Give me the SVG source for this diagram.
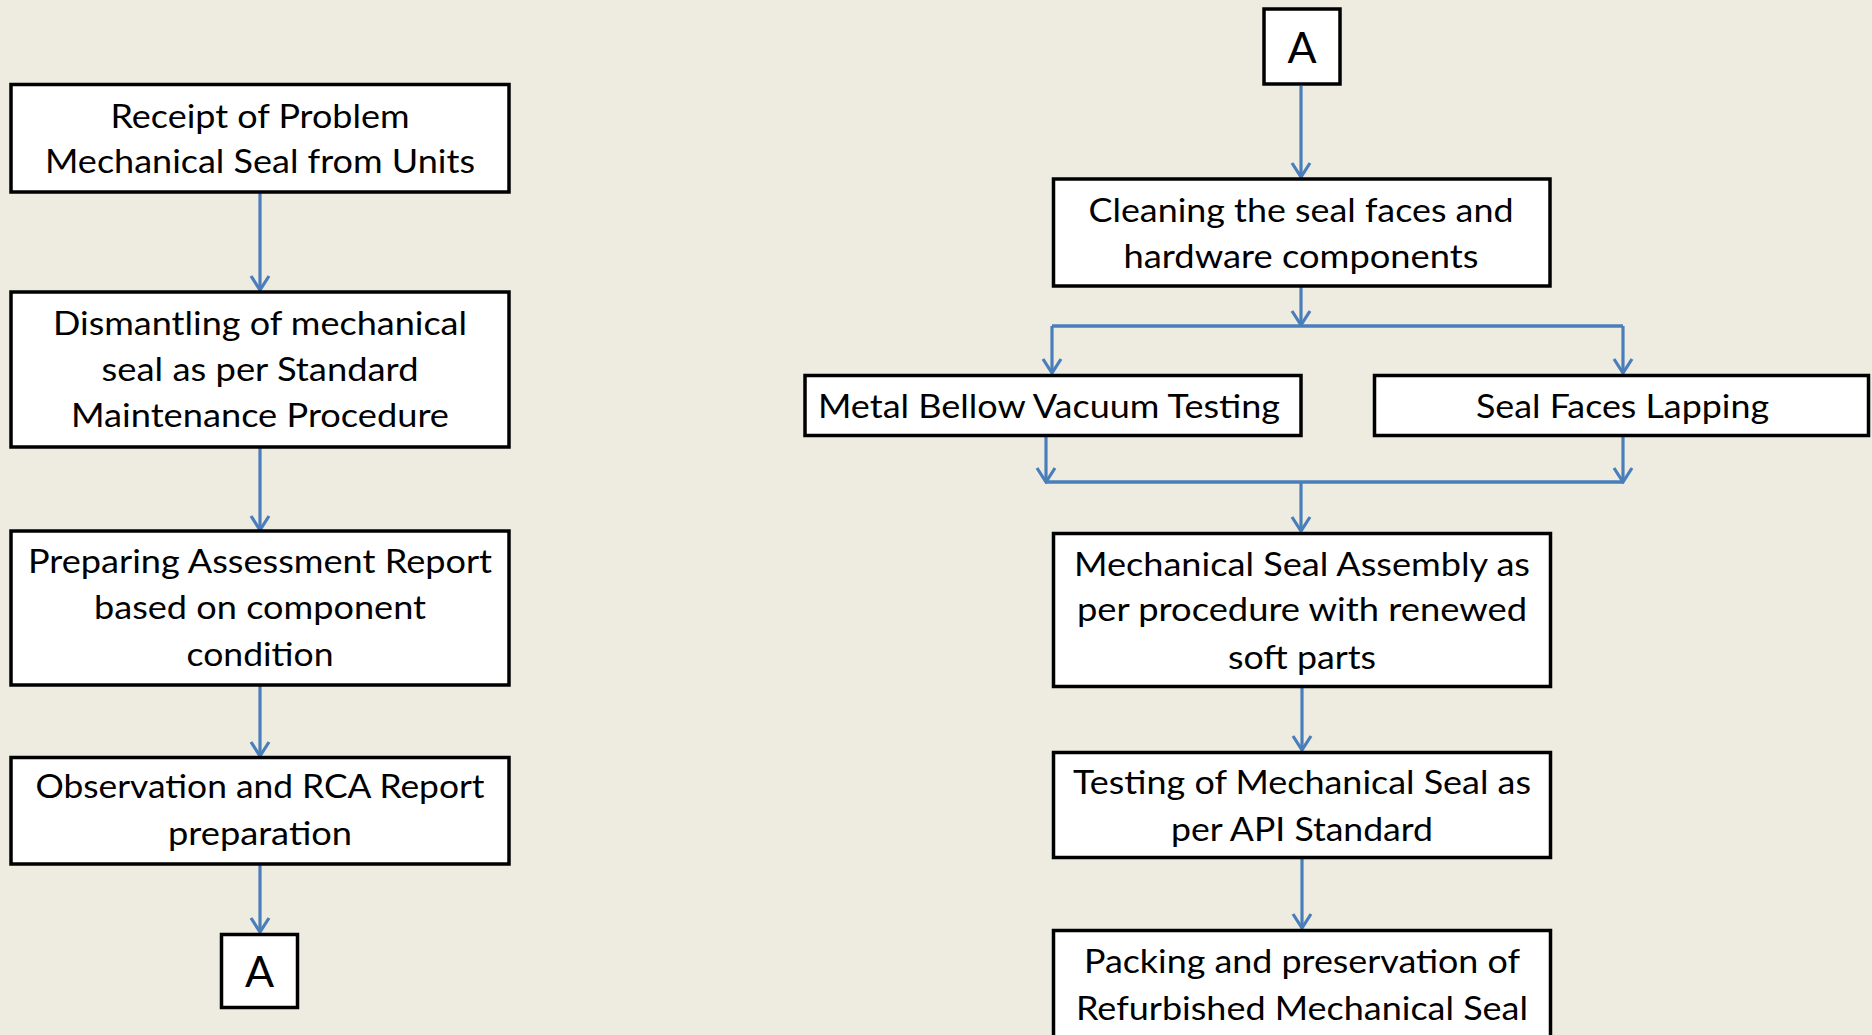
<svg xmlns="http://www.w3.org/2000/svg" width="1872" height="1035" viewBox="0 0 1872 1035">
<style>
.box{fill:#ffffff;stroke:#000000;stroke-width:3.5}
.t{font-family:Lato,"Open Sans",sans-serif;font-size:32px;fill:#000000;text-anchor:middle}
.ta{font-family:Lato,"Open Sans",sans-serif;font-size:43px;fill:#000000;text-anchor:middle}
.c{fill:none;stroke:#4a7ebb;stroke-width:3.5}
.ca{fill:none;stroke:#4a7ebb;stroke-width:3.2;marker-end:url(#arr)}
</style>
<defs>
<marker id="arr" markerUnits="userSpaceOnUse" viewBox="-17 -12 19 24" markerWidth="19" markerHeight="24" refX="0" refY="0" orient="auto">
<path d="M-14,-9 L0,0 L-14,9" fill="none" stroke="#4a7ebb" stroke-width="3.2"/>
</marker>
</defs>
<rect width="1872" height="1035" fill="#eeece1"/>
<g id="connectors">
<line class="ca" x1="260" y1="193" x2="260" y2="290"/>
<line class="ca" x1="260" y1="447" x2="260" y2="530"/>
<line class="ca" x1="260" y1="686" x2="260" y2="756"/>
<line class="ca" x1="260" y1="865" x2="260" y2="932"/>
<line class="ca" x1="1301" y1="86" x2="1301" y2="177"/>
<line class="ca" x1="1301" y1="287" x2="1301" y2="325"/>
<line class="c" x1="1052" y1="326" x2="1623" y2="326"/>
<line class="ca" x1="1052" y1="326" x2="1052" y2="373"/>
<line class="ca" x1="1623" y1="326" x2="1623" y2="373"/>
<line class="ca" x1="1046" y1="437" x2="1046" y2="482"/>
<line class="ca" x1="1623" y1="437" x2="1623" y2="482"/>
<line class="c" x1="1046" y1="482" x2="1623" y2="482"/>
<line class="ca" x1="1301" y1="482" x2="1301" y2="531"/>
<line class="ca" x1="1302" y1="688" x2="1302" y2="750"/>
<line class="ca" x1="1302" y1="859" x2="1302" y2="928"/>
</g>
<g id="n1">
<rect class="box" x="11" y="84.5" width="498" height="107.5"/>
<text class="t" x="260" y="128" textLength="299" lengthAdjust="spacingAndGlyphs">Receipt of Problem</text>
<text class="t" x="260" y="173" textLength="430" lengthAdjust="spacingAndGlyphs">Mechanical Seal from Units</text>
</g>
<g id="n2">
<rect class="box" x="11" y="292" width="498" height="155"/>
<text class="t" x="260" y="335" textLength="414" lengthAdjust="spacingAndGlyphs">Dismantling of mechanical</text>
<text class="t" x="260" y="381" textLength="317" lengthAdjust="spacingAndGlyphs">seal as per Standard</text>
<text class="t" x="260" y="427" textLength="378" lengthAdjust="spacingAndGlyphs">Maintenance Procedure</text>
</g>
<g id="n3">
<rect class="box" x="11" y="531" width="498" height="154"/>
<text class="t" x="260" y="573" textLength="464" lengthAdjust="spacingAndGlyphs">Preparing Assessment Report</text>
<text class="t" x="260" y="619" textLength="332" lengthAdjust="spacingAndGlyphs">based on component</text>
<text class="t" x="260" y="666" textLength="147" lengthAdjust="spacingAndGlyphs">condition</text>
</g>
<g id="n4">
<rect class="box" x="11" y="757.5" width="498" height="106.5"/>
<text class="t" x="260" y="798" textLength="449" lengthAdjust="spacingAndGlyphs">Observation and RCA Report</text>
<text class="t" x="260" y="845" textLength="184" lengthAdjust="spacingAndGlyphs">preparation</text>
</g>
<g id="a1">
<rect class="box" x="221.5" y="934.5" width="76" height="73"/>
<text class="ta" x="259.5" y="987">A</text>
</g>
<g id="a2">
<rect class="box" x="1264" y="9" width="76" height="75"/>
<text class="ta" x="1302" y="63">A</text>
</g>
<g id="n5">
<rect class="box" x="1053.5" y="179" width="496.5" height="107"/>
<text class="t" x="1301" y="222" textLength="425" lengthAdjust="spacingAndGlyphs">Cleaning the seal faces and</text>
<text class="t" x="1301" y="268" textLength="355" lengthAdjust="spacingAndGlyphs">hardware components</text>
</g>
<g id="n6">
<rect class="box" x="805" y="375.5" width="496" height="60"/>
<text class="t" x="1049" y="418" textLength="462" lengthAdjust="spacingAndGlyphs">Metal Bellow Vacuum Testing</text>
</g>
<g id="n7">
<rect class="box" x="1374.5" y="375.5" width="494" height="60"/>
<text class="t" x="1622.5" y="418" textLength="293" lengthAdjust="spacingAndGlyphs">Seal Faces Lapping</text>
</g>
<g id="n8">
<rect class="box" x="1053.5" y="533.5" width="497" height="153"/>
<text class="t" x="1302" y="576" textLength="456" lengthAdjust="spacingAndGlyphs">Mechanical Seal Assembly as</text>
<text class="t" x="1302" y="621" textLength="450" lengthAdjust="spacingAndGlyphs">per procedure with renewed</text>
<text class="t" x="1302" y="669" textLength="148" lengthAdjust="spacingAndGlyphs">soft parts</text>
</g>
<g id="n9">
<rect class="box" x="1053.5" y="752.5" width="497" height="105"/>
<text class="t" x="1302" y="794" textLength="458" lengthAdjust="spacingAndGlyphs">Testing of Mechanical Seal as</text>
<text class="t" x="1302" y="841" textLength="262" lengthAdjust="spacingAndGlyphs">per API Standard</text>
</g>
<g id="n10">
<rect class="box" x="1053.5" y="930.5" width="497" height="200"/>
<text class="t" x="1302" y="973" textLength="436" lengthAdjust="spacingAndGlyphs">Packing and preservation of</text>
<text class="t" x="1302" y="1020" textLength="452" lengthAdjust="spacingAndGlyphs">Refurbished Mechanical Seal</text>
</g>
</svg>
